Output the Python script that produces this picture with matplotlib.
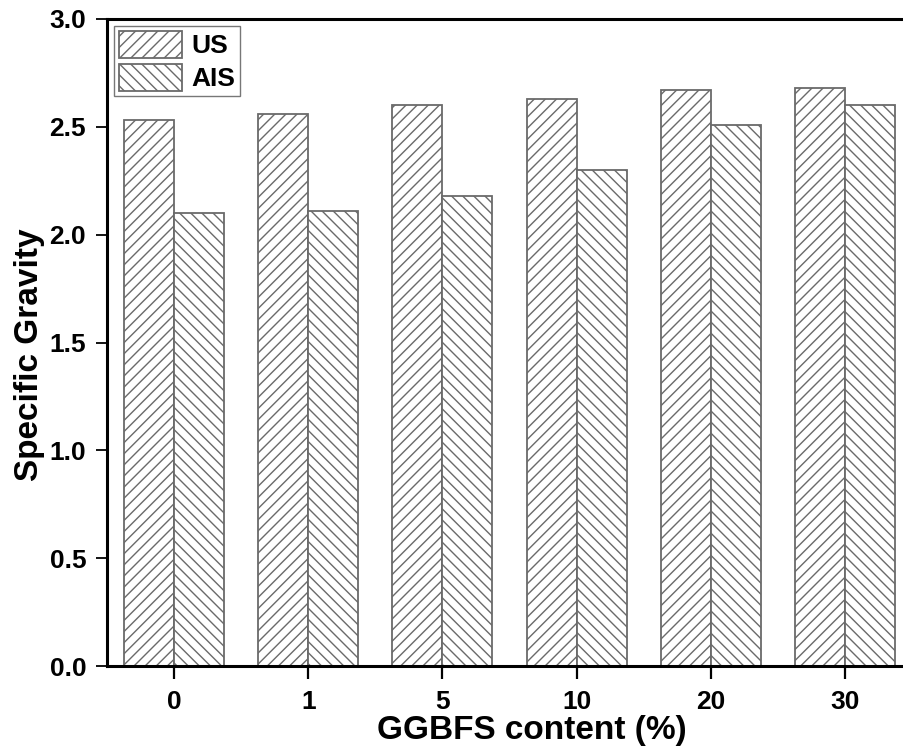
import numpy as np
import matplotlib
matplotlib.use("Agg")
import matplotlib.pyplot as plt

# GGBFS replacement levels and specific gravity of the two soils
categories = ["0", "1", "5", "10", "20", "30"]
us_values = [2.53, 2.56, 2.60, 2.63, 2.67, 2.68]
ais_values = [2.10, 2.11, 2.18, 2.30, 2.51, 2.60]
series_names = ["US", "AIS"]

plt.rcParams["font.family"] = ["Liberation Sans", "DejaVu Sans"]
plt.rcParams["font.weight"] = "bold"
plt.rcParams["hatch.color"] = "#7a7a7a"
plt.rcParams["hatch.linewidth"] = 1.0

fig = plt.figure(figsize=(9.04, 7.53), dpi=100)
ax = fig.add_axes([107 / 904, 1 - 666 / 753, 805 / 904, (666 - 19) / 753])

x = np.arange(len(categories))
width = 0.373
edge = "#6a6a6a"
ax.bar(x - width / 2, us_values, width, facecolor="white", edgecolor=edge,
       linewidth=1.3, hatch="///", label=series_names[0])
ax.bar(x + width / 2, ais_values, width, facecolor="white", edgecolor=edge,
       linewidth=1.3, hatch="\\\\\\", label=series_names[1])

ax.set_xlim(-0.5, 5.5)
ax.set_ylim(0, 3.0)
ax.set_xticks(x)
ax.set_xticklabels(categories)
ax.set_yticks(np.arange(0, 3.01, 0.5))
ax.set_yticklabels([f"{v:.1f}" for v in np.arange(0, 3.01, 0.5)])

for s in ax.spines.values():
    s.set_linewidth(2.2)
ax.tick_params(axis="x", direction="out", length=9, width=1.6, pad=8,
               labelsize=19)
ax.tick_params(axis="y", direction="out", length=8, width=1.3, pad=7,
               labelsize=19)
for lab in ax.get_xticklabels() + ax.get_yticklabels():
    lab.set_fontweight("bold")

ax.set_xlabel("GGBFS content (%)", fontsize=24, fontweight="bold", labelpad=1)
ax.set_ylabel("Specific Gravity", fontsize=24, fontweight="bold", labelpad=3)
ax.xaxis.label.set_x(0.528)
ax.yaxis.label.set_y(0.481)

leg = ax.legend(loc="upper left", bbox_to_anchor=(0.0, 1.0),
                prop={"size": 19, "weight": "bold"},
                handlelength=2.4, handleheight=1.2, labelspacing=0.2,
                handletextpad=0.34, borderpad=0.2, borderaxespad=0.25,
                fancybox=False, frameon=True)
leg.get_frame().set_edgecolor("#555555")
leg.get_frame().set_linewidth(1.0)

fig.savefig("out.png", dpi=100)
